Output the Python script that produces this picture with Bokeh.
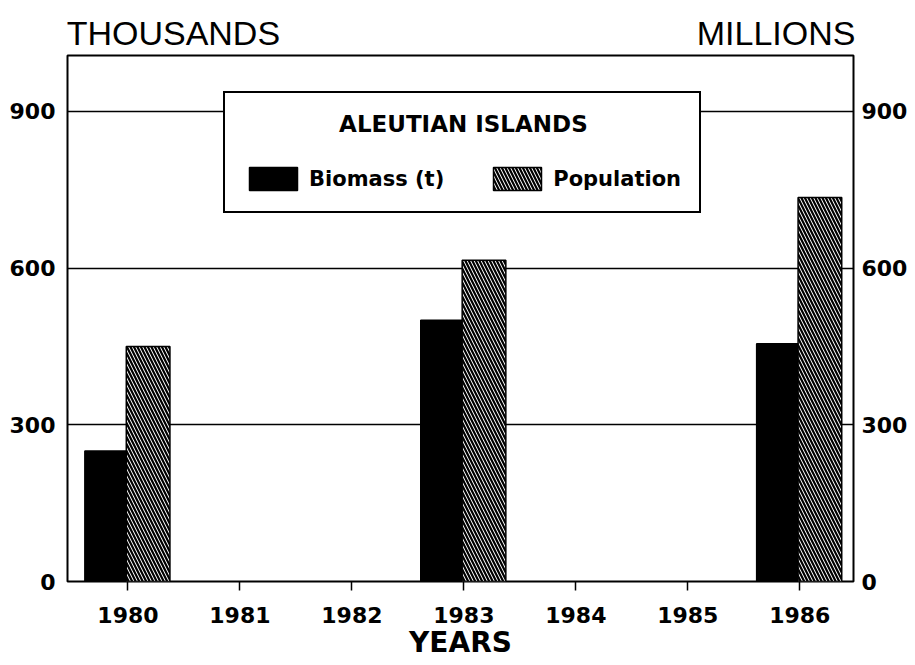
from bokeh.plotting import figure
from bokeh.models import (ColumnDataSource, Range1d, LinearAxis, FixedTicker,
                          Legend, LegendItem)
from bokeh.transform import dodge
from bokeh.embed import file_html
from bokeh.resources import INLINE

# ---- data ----
years = [1980, 1983, 1986]
biomass = [250, 500, 455]        # thousands (t)
population = [450, 615, 735]     # millions
year_ticks = [1980, 1981, 1982, 1983, 1984, 1985, 1986]
y_ticks = [0, 300, 600, 900]
grid_ticks = [300, 600, 900]
left_unit = "THOUSANDS"
right_unit = "MILLIONS"
legend_title = "ALEUTIAN ISLANDS"

src = ColumnDataSource(dict(year=years, biomass=biomass, population=population))

FONT = "DejaVu Sans"
X0, X1 = 1979.46, 1986.48

p = figure(width=910, height=664, output_backend="svg", toolbar_location=None,
           x_range=Range1d(X0, X1), y_range=Range1d(0, 1007),
           min_border_left=67, min_border_right=56, min_border_top=55,
           min_border_bottom=83, background_fill_color="white",
           border_fill_color="white")

p.outline_line_color = "black"
p.outline_line_width = 2

p.xgrid.grid_line_color = None
p.ygrid.ticker = FixedTicker(ticks=grid_ticks)
p.ygrid.grid_line_color = "black"
p.ygrid.grid_line_width = 1.5

r1 = p.vbar(x=dodge("year", -0.195, range=p.x_range), top="biomass", width=0.38,
            source=src, fill_color="black", line_color="black", line_width=1.5)
r2 = p.vbar(x=dodge("year", 0.18, range=p.x_range), top="population", width=0.39,
            source=src, fill_color="white", line_color="black", line_width=1.5,
            hatch_pattern="\\", hatch_color="black", hatch_scale=7, hatch_weight=2.2)

# x axis
xa = p.xaxis[0]
xa.ticker = FixedTicker(ticks=year_ticks)
xa.axis_line_color = None
xa.minor_tick_line_color = None
xa.major_tick_in = 0
xa.major_tick_out = 9
xa.major_tick_line_width = 1.5
xa.major_tick_line_color = "black"
xa.major_label_standoff = 16
xa.major_label_text_font = FONT
xa.major_label_text_font_style = "bold"
xa.major_label_text_font_size = "22px"
xa.major_label_text_color = "black"
xa.axis_label = "YEARS"
xa.axis_label_standoff = 0
xa.axis_label_text_font = FONT
xa.axis_label_text_font_style = "bold"
xa.axis_label_text_font_size = "28px"
xa.axis_label_text_color = "black"

def style_y(ax, standoff):
    ax.ticker = FixedTicker(ticks=y_ticks)
    ax.axis_line_color = None
    ax.minor_tick_line_color = None
    ax.major_tick_line_color = None
    ax.major_tick_in = 0
    ax.major_tick_out = 0
    ax.major_label_standoff = standoff
    ax.major_label_text_font = FONT
    ax.major_label_text_font_style = "bold"
    ax.major_label_text_font_size = "22px"
    ax.major_label_text_color = "black"

style_y(p.yaxis[0], 12)
ra = LinearAxis()
style_y(ra, 8)
p.add_layout(ra, "right")

# unit captions above the frame (left = thousands, right = millions),
# placed at the left and right ends of the top edge
cap_left = X0 + 0.9456 * (X1 - X0) / 7.02
cap_right = X0 + 6.329 * (X1 - X0) / 7.02
ta = LinearAxis(ticker=FixedTicker(ticks=[cap_left, cap_right]))
ta.major_label_overrides = {cap_left: left_unit, cap_right: right_unit}
ta.axis_line_color = None
ta.minor_tick_line_color = None
ta.major_tick_line_color = None
ta.major_tick_in = 0
ta.major_tick_out = 0
ta.major_label_standoff = 4
ta.major_label_text_font = "Liberation Sans"
ta.major_label_text_font_size = "34px"
ta.major_label_text_color = "black"
p.add_layout(ta, "above")

legend = Legend(items=[LegendItem(label="Biomass (t)", renderers=[r1]),
                       LegendItem(label="Population", renderers=[r2])],
                location=(156, 368), orientation="horizontal",
                title="\u00a0" * 12 + legend_title, title_text_font=FONT,
                title_text_font_style="bold", title_text_font_size="23px",
                title_text_color="black", title_standoff=27,
                label_text_font=FONT, label_text_font_style="bold",
                label_text_font_size="21px", label_text_color="black",
                glyph_width=60, glyph_height=29, label_standoff=6,
                spacing=43, padding=18, margin=0,
                border_line_color="black", border_line_width=2,
                border_line_alpha=1.0,
                background_fill_color="white", background_fill_alpha=1.0)
p.add_layout(legend)

open("out.html", "w").write(file_html(p, INLINE))
